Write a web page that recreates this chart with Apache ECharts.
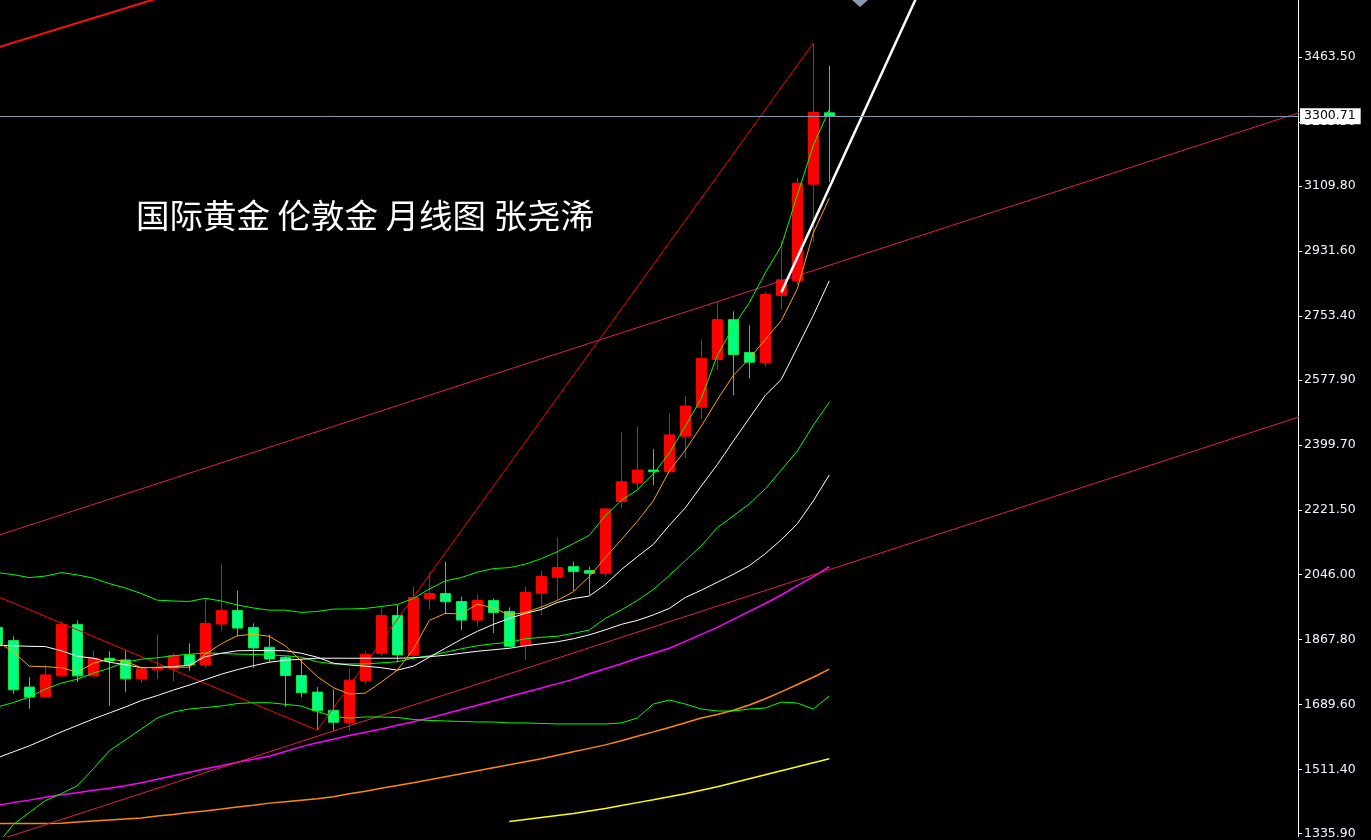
<!DOCTYPE html>
<html>
<head>
<meta charset="utf-8">
<script src="https://cdn.jsdelivr.net/npm/echarts@6/dist/echarts.min.js"></script>
<style>
html,body{margin:0;padding:0;background:#000;}
#c{width:1371px;height:840px;}
</style>
</head>
<body>
<div id="c"></div>
<script>
// Months (index -1 .. 51 on the x axis)
const months = [
 '2021-01','2021-02','2021-03','2021-04','2021-05','2021-06','2021-07','2021-08','2021-09','2021-10','2021-11','2021-12',
 '2022-01','2022-02','2022-03','2022-04','2022-05','2022-06','2022-07','2022-08','2022-09','2022-10','2022-11','2022-12',
 '2023-01','2023-02','2023-03','2023-04','2023-05','2023-06','2023-07','2023-08','2023-09','2023-10','2023-11','2023-12',
 '2024-01','2024-02','2024-03','2024-04','2024-05','2024-06','2024-07','2024-08','2024-09','2024-10','2024-11','2024-12',
 '2025-01','2025-02','2025-03','2025-04','2025-05'
];
// [open, close, low, high]
const candles = [
 [1900.5,1854.2,1802.0,1959.0],[1864.3,1729.5,1718.6,1876.0],[1736.9,1709.6,1677.7,1764.1],[1710.4,1770.4,1707.7,1798.8],
 [1767.7,1908.7,1765.0,1916.9],[1908.7,1767.7,1751.3,1919.6],[1767.7,1816.0,1765.5,1837.0],[1816.0,1808.6,1685.9,1835.1],
 [1811.4,1759.5,1724.1,1837.0],[1759.5,1786.8,1747.8,1791.4],[1784.1,1788.7,1758.7,1880.6],[1788.7,1823.3,1753.3,1828.8],
 [1825.0,1797.7,1781.4,1856.9],[1797.7,1911.5,1789.5,1977.7],[1909.6,1946.9,1891.5,2073.2],[1946.9,1898.6,1876.0,2001.5],
 [1900.5,1844.1,1789.5,1911.5],[1846.0,1814.1,1804.3,1880.6],[1818.7,1768.8,1682.3,1822.2],[1768.8,1721.4,1709.6,1814.1],
 [1723.2,1672.2,1618.8,1736.9],[1673.3,1640.6,1616.9,1730.6],[1639.5,1756.0,1616.9,1788.7],[1754.1,1826.9,1745.9,1835.1],
 [1829.6,1933.3,1822.2,1952.4],[1933.3,1825.0,1805.1,1961.4],[1824.2,1982.4,1810.5,2011.8],[1979.6,1993.3,1950.5,2050.6],
 [1993.3,1970.7,1936.8,2080.6],[1971.5,1920.5,1893.2,1984.3],[1920.5,1974.2,1903.3,1990.6],[1974.2,1941.5,1885.0,1979.6],
 [1944.2,1848.7,1846.0,1955.1],[1851.4,1996.0,1811.4,2012.4],[1994.1,2039.7,1934.1,2056.0],[2037.8,2064.2,1976.1,2146.0],
 [2066.9,2053.3,2000.7,2080.6],[2056.0,2048.7,1989.7,2066.9],[2048.7,2225.1,2039.7,2227.9],[2245.1,2299.6,2227.9,2435.2],
 [2296.9,2331.5,2277.0,2451.5],[2331.5,2326.9,2289.8,2388.8],[2326.9,2427.8,2326.9,2487.0],[2424.3,2506.9,2364.3,2534.2],
 [2503.4,2637.8,2471.5,2689.7],[2634.3,2743.4,2605.1,2793.3],[2743.4,2647.9,2536.1,2766.0],[2653.4,2626.9,2582.5,2727.9],
 [2626.1,2812.4,2614.4,2820.6],[2809.7,2852.5,2771.5,2959.7],[2849.8,3117.1,2838.9,3130.7],[3114.4,3310.8,2955.3,3500.9],
 [3309.9,3300.71,3120.6,3439.0]
];
const lastPrice = 3300.71;

const ma5 = [1861.0,1833.7,1794.2,1792.8,1790.1,1777.8,1802.3,1813.2,1807.8,1790.1,1790.9,1791.5,1791.5,1826.9,1855.5,1877.4,1882.0,1876.0,1850.1,1807.8,1765.6,1735.6,1717.8,1720.5,1750.5,1783.2,1840.5,1919.6,1938.7,1937.4,1964.1,1953.7,1934.6,1941.4,1956.4,1974.2,1998.0,2039.6,2091.5,2140.6,2191.0,2247.0,2328.8,2386.1,2451.5,2523.8,2590.6,2636.9,2688.9,2740.7,2828.0,2980.7,3076.2];
const ma10 = [1851.4,1850.1,1848.7,1847.9,1836.4,1821.4,1816.0,1805.1,1798.2,1790.1,1790.9,1792.8,1796.9,1820.1,1829.6,1836.4,1837.0,1837.0,1836.4,1829.6,1818.7,1802.3,1797.4,1794.2,1790.1,1783.2,1794.2,1818.7,1843.3,1867.8,1889.6,1908.7,1925.1,1938.7,1949.6,1968.7,1979.6,1986.4,2017.8,2058.7,2094.2,2127.7,2180.1,2227.9,2287.9,2346.5,2410.6,2473.3,2536.1,2579.7,2667.0,2755.1,2849.8];
const bollUpper = [2050.6,2045.1,2036.9,2041.0,2050.6,2044.3,2035.5,2020.5,2008.3,1993.3,1975.0,1972.8,1971.5,1980.2,1972.8,1961.9,1953.7,1947.7,1947.7,1941.4,1944.2,1950.5,1951.0,1952.4,1957.8,1963.3,1979.6,2005.5,2027.9,2036.9,2051.9,2061.5,2064.2,2073.7,2088.7,2107.8,2129.7,2152.8,2206.0,2248.3,2277.0,2320.6,2377.9,2451.5,2527.9,2645.2,2724.3,2789.8,2871.6,2945.2,3084.4,3220.7,3318.9];
const bollMid = [1682.3,1694.6,1709.6,1731.4,1747.8,1758.7,1775.1,1788.7,1805.1,1813.2,1817.3,1822.8,1826.9,1830.4,1829.1,1827.4,1826.3,1825.0,1822.8,1818.7,1806.4,1800.4,1800.4,1800.4,1803.2,1806.4,1816.0,1822.8,1832.3,1841.9,1850.1,1855.6,1859.6,1869.2,1873.3,1876.0,1884.2,1893.2,1925.1,1948.3,1974.2,2004.2,2042.4,2083.3,2124.2,2173.3,2206.0,2238.8,2279.7,2331.5,2383.3,2454.3,2517.0];
const bollLower = [1305.9,1360.4,1393.2,1425.9,1445.0,1466.8,1513.2,1562.3,1592.3,1622.3,1652.3,1668.7,1676.9,1681.0,1685.1,1691.9,1694.1,1694.1,1689.7,1685.1,1670.1,1656.4,1652.3,1655.0,1655.0,1653.7,1648.2,1645.5,1644.2,1642.8,1641.4,1641.4,1638.7,1638.7,1637.3,1636.0,1636.0,1636.0,1636.0,1638.7,1652.3,1690.5,1701.4,1690.5,1676.9,1671.4,1671.4,1676.9,1679.6,1695.9,1693.2,1676.9,1712.3];
const ma30 = [1543.2,1559.6,1575.9,1595.0,1614.1,1631.9,1649.6,1666.0,1682.3,1700.1,1713.7,1728.7,1742.4,1757.4,1772.3,1784.6,1795.5,1805.1,1810.5,1813.2,1816.0,1816.0,1816.0,1816.0,1816.0,1816.0,1817.3,1820.1,1824.2,1829.6,1835.1,1839.2,1843.3,1850.1,1855.5,1861.0,1869.2,1880.1,1893.7,1908.7,1919.6,1934.6,1952.4,1982.4,2002.3,2024.1,2045.9,2069.6,2102.4,2140.6,2184.2,2247.0,2317.9];
const ma60 = [1412.3,1420.5,1427.3,1435.5,1442.3,1447.7,1454.6,1460.0,1466.8,1475.0,1484.6,1494.1,1503.7,1513.2,1521.4,1531.0,1539.1,1547.6,1560.6,1573.9,1584.7,1594.1,1604.6,1613.4,1622.4,1632.5,1642.0,1652.3,1663.8,1675.5,1687.2,1699.0,1711.0,1722.7,1734.4,1746.4,1758.1,1773.7,1787.3,1801.0,1816.0,1829.6,1843.3,1862.3,1881.4,1900.5,1922.4,1944.2,1966.0,1989.2,2015.1,2039.6,2066.9];
const ma120 = [1363.2,1363.2,1363.2,1363.2,1364.0,1367.3,1370.0,1372.7,1375.5,1378.2,1383.6,1387.7,1393.2,1397.3,1402.7,1408.2,1413.6,1419.1,1423.2,1427.3,1431.4,1436.8,1445.0,1451.8,1460.0,1467.4,1475.0,1483.2,1491.4,1499.5,1507.7,1515.9,1524.1,1532.3,1540.5,1550.0,1559.6,1569.1,1578.7,1590.2,1602.2,1614.2,1626.5,1639.3,1652.3,1662.0,1673.5,1688.0,1705.0,1724.0,1744.0,1764.0,1786.0];
const ma250 = [null,null,null,null,null,null,null,null,null,null,null,null,null,null,null,null,
 null,null,null,null,null,null,null,null,null,null,null,null,null,null,null,null,
 1368.6,1374.1,1379.5,1385.0,1390.4,1397.3,1404.1,1412.3,1420.5,1428.6,1436.8,1445.0,1454.6,1464.1,1475.0,1485.9,1496.8,1507.7,1518.7,1529.6,1540.5];

// Drawn trend lines: [x index, price]
const trendZigzag = [[-2,2003.9],[19,1618.8],[50,3500.9]];
const channelUpper = [[-1,2151.8],[81,3319.5]];
const channelLower = [[-1,1317.1],[81,2486.2]];
const channelTop = [[-1,3488.6],[20,3771.7]];
const trendWhite = [[48,2818.0],[57,3679.0]];

const yTicks = [1335.9,1511.4,1689.6,1867.8,2046.0,2221.5,2399.7,2577.9,2753.4,2931.6,3109.8,3285.3,3463.5];

function pts(arr){ const out=[]; arr.forEach((v,i)=>{ if(v!=null) out.push([i-1,v]); }); return out; }
function lineS(data, color, width){
  return {type:'line', data:data, symbol:'none', showSymbol:false, silent:true,
    lineStyle:{color:color, width:width}, itemStyle:{color:color}, animation:false, z:3};
}

const chart = echarts.init(document.getElementById('c'), null, {renderer:'canvas'});
chart.setOption({
  backgroundColor:'#000000',
  animation:false,
  title:{text:'国际黄金 伦敦金 月线图 张尧浠', left:136, top:198, padding:0,
    textStyle:{color:'#ffffff', fontSize:33.5, fontWeight:'normal', fontFamily:'Noto Sans CJK SC', lineHeight:34}},
  grid:{left:0, right:73, top:0, bottom:0},
  xAxis:{type:'value', min:-0.83125, max:80.294, show:false},
  yAxis:{type:'value', position:'right', min:1327.7, max:3619.0,
    splitLine:{show:false},
    axisLine:{show:true, onZero:false, lineStyle:{color:'#ffffff', width:1}},
    axisTick:{show:true, length:4, customValues:yTicks, lineStyle:{color:'#ffffff'}},
    axisLabel:{show:true, customValues:yTicks, formatter:function(v){return v.toFixed(2);},
      color:'#f2f4ff', fontSize:12.5, fontFamily:'DejaVu Sans', margin:6}
  },
  series:[
    {type:'candlestick', barWidth:11,
     data:candles.map((c,i)=>[i-1,c[0],c[1],c[2],c[3]]),
     itemStyle:{color:'#ff0000', color0:'#00ff80', borderColor:'#ff0000', borderColor0:'#10e840', borderWidth:1},
     markLine:{symbol:'none', silent:true, animation:false,
       data:[{yAxis:lastPrice}],
       lineStyle:{color:'#8a9ab0', type:'solid', width:1},
       label:{position:'end', distance:2, formatter:lastPrice.toFixed(2), color:'#000000',
         backgroundColor:'#ffffff', padding:[2,5,1,4], fontSize:12.5, fontFamily:'DejaVu Sans'}},
     markPoint:{silent:true, animation:false,
       data:[{coord:[52.92,3619.0], symbol:'diamond', symbolSize:[16,14], itemStyle:{color:'#8a9ab0'}, label:{show:false}}]}
    },
    lineS(pts(ma120), '#ff8a00', 1.5),
    lineS(pts(ma250), '#ffff00', 1.5),
    lineS(pts(ma60), '#ff00ff', 1.5),
    lineS(channelLower, '#e0204a', 1),
    lineS(channelUpper, '#e0204a', 1),
    lineS(channelTop, '#ff1010', 2),
    lineS(trendZigzag, '#ff0000', 1),
    lineS(pts(bollLower), '#00ff00', 1),
    lineS(pts(bollMid), '#00ff00', 1),
    lineS(pts(bollUpper), '#00ff00', 1),
    lineS(pts(ma30), '#ffffff', 1),
    lineS(pts(ma10), '#ffffff', 1),
    lineS(pts(ma5), '#ffa500', 1),
    lineS(trendWhite, '#ffffff', 2.5)
  ]
});
</script>
</body>
</html>
